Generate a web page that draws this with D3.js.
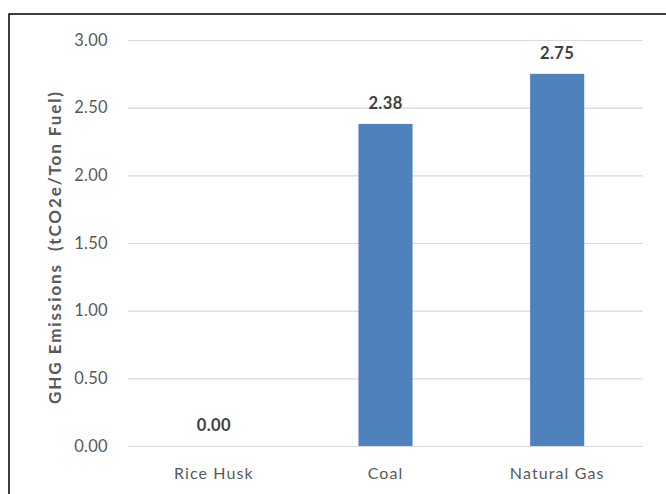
<!DOCTYPE html>
<html>
<head>
<meta charset="utf-8">
<script src="https://cdn.jsdelivr.net/npm/d3@7"></script>
<style>
  html, body { margin: 0; padding: 0; background: #fff; }
  svg { display: block; }
</style>
</head>
<body>
<svg id="chart" width="666" height="494"></svg>
<script>
// Fuel types and their emission factors
const categories = ["Rice Husk", "Coal", "Natural Gas"];
const values = [0.00, 2.38, 2.75];
const yTicks = [0, 0.5, 1, 1.5, 2, 2.5, 3];
const yTitle = "GHG Emissions  (tCO2e/Ton Fuel)";

const W = 666, H = 494;
const plot = { left: 128, right: 643, top: 40, bottom: 446 };
const font = "Lato, 'Open Sans', 'Liberation Sans', sans-serif";

const svg = d3.select("#chart");

// Outer frame
svg.append("rect")
  .attr("x", 9).attr("y", 14)
  .attr("width", W + 10).attr("height", H + 10)
  .attr("fill", "none").attr("stroke", "#000").attr("stroke-width", 1.5);

const x = d3.scaleBand().domain(categories)
  .range([plot.left, plot.right]).paddingInner(0.685).paddingOuter(0.3425);
const y = d3.scaleLinear().domain([0, 3]).range([plot.bottom, plot.top]);

// Horizontal gridlines
svg.append("g").selectAll("line").data(yTicks).join("line")
  .attr("x1", plot.left).attr("x2", plot.right)
  .attr("y1", d => y(d) + 0.5).attr("y2", d => y(d) + 0.5)
  .attr("stroke", "#d9d9d9").attr("stroke-width", 1.2);

// Y axis tick labels
const yAxis = d3.axisLeft(y).tickValues(yTicks).tickFormat(d3.format(".2f")).tickSize(0).tickPadding(20);
const gy = svg.append("g").attr("transform", `translate(${plot.left},0)`).call(yAxis);
gy.select(".domain").remove();
gy.selectAll("text")
  .attr("font-family", font).attr("font-size", 16.5).attr("fill", "#595959")
  .attr("letter-spacing", 0.3);

// Bars
svg.append("g").selectAll("rect").data(values).join("rect")
  .attr("x", (d, i) => x(categories[i]))
  .attr("width", x.bandwidth())
  .attr("y", d => y(d))
  .attr("height", d => y(0) - y(d))
  .attr("fill", "#4f81bd");

// Value labels
svg.append("g").selectAll("text").data(values).join("text")
  .attr("x", (d, i) => x(categories[i]) + x.bandwidth() / 2)
  .attr("y", d => y(d) - 15)
  .attr("text-anchor", "middle")
  .attr("font-family", font).attr("font-size", 16.5).attr("font-weight", "bold")
  .attr("fill", "#404040").attr("letter-spacing", 0.4)
  .text(d => d3.format(".2f")(d));

// X axis category labels
const xAxis = d3.axisBottom(x).tickSize(0);
const gx = svg.append("g").attr("transform", `translate(0,${plot.bottom})`).call(xAxis);
gx.select(".domain").remove();
gx.selectAll("text")
  .attr("y", 33).attr("dy", 0)
  .attr("font-family", font).attr("font-size", 16).attr("fill", "#595959")
  .attr("letter-spacing", 1.1);

// Y axis title
svg.append("text")
  .attr("transform", `translate(61,${(plot.top + plot.bottom) / 2 + 4}) rotate(-90)`)
  .attr("text-anchor", "middle")
  .attr("font-family", font).attr("font-size", 17).attr("font-weight", "bold")
  .attr("fill", "#595959").attr("letter-spacing", 1.9)
  .attr("xml:space", "preserve")
  .style("white-space", "pre")
  .text(yTitle);
</script>
</body>
</html>
